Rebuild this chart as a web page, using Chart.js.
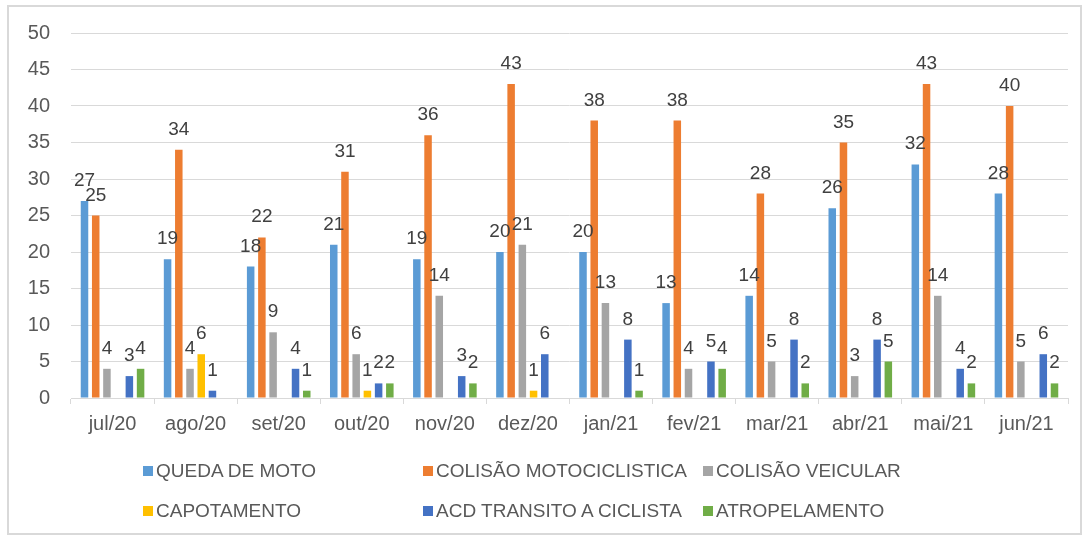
<!DOCTYPE html>
<html>
<head>
<meta charset="utf-8">
<script src="https://cdn.jsdelivr.net/npm/chart.js@4.4.1/dist/chart.umd.min.js"></script>
<style>
    html, body { margin: 0; padding: 0; background: #fff; }
    body { width: 1088px; height: 541px; position: relative; overflow: hidden; font-family: "Liberation Sans", Arial, sans-serif; }
    #frame { position: absolute; left: 7px; top: 5px; width: 1075px; height: 530px; border: 2px solid #d9d9d9; box-sizing: border-box; }
    #chart { position: absolute; left: 0; top: 0; }
    #legend { position: absolute; left: 143px; top: 460px; display: grid; grid-template-columns: 280px 280px 280px; row-gap: 18px; }
    .item { display: flex; align-items: center; height: 22px; font-size: 19px; color: #595959; white-space: nowrap; }
    .box { width: 10px; height: 10px; margin-right: 3px; flex: none; }
</style>
</head>
<body>
<div id="frame"></div>
<canvas id="chart" width="1088" height="541"></canvas>
<div id="legend"></div>
<script>
// Months on the x axis
const months = ['jul/20', 'ago/20', 'set/20', 'out/20', 'nov/20', 'dez/20',
                'jan/21', 'fev/21', 'mar/21', 'abr/21', 'mai/21', 'jun/21'];

// Series (null = empty cell, no bar and no label)
const quedaMoto      = [27, 19, 18, 21, 19, 20, 20, 13, 14, 26, 32, 28];
const colisaoMoto    = [25, 34, 22, 31, 36, 43, 38, 38, 28, 35, 43, 40];
const colisaoVeic    = [4, 4, 9, 6, 14, 21, 13, 4, 5, 3, 14, 5];
const capotamento    = [null, 6, null, 1, null, 1, null, null, null, null, null, null];
const acdCiclista    = [3, 1, 4, 2, 3, 6, 8, 5, 8, 8, 4, 6];
const atropelamento  = [4, null, 1, 2, 2, null, 1, 4, 2, 5, 2, 2];

const yTicks = [0, 5, 10, 15, 20, 25, 30, 35, 40, 45, 50];

const textGray = '#595959';
const gridGray = '#d9d9d9';

function series(label, data, color) {
    return {
        label: label,
        data: data,
        backgroundColor: color,
        borderWidth: 0,
        barPercentage: 0.67,
        categoryPercentage: 0.81
    };
}

// Value labels above each bar, like Excel "outside end"
const valueLabels = {
    id: 'valueLabels',
    afterDatasetsDraw(chart) {
        const ctx = chart.ctx;
        ctx.save();
        ctx.font = '19px "Liberation Sans", Arial, sans-serif';
        ctx.fillStyle = '#404040';
        ctx.textAlign = 'center';
        ctx.textBaseline = 'alphabetic';
        chart.data.datasets.forEach((ds, i) => {
            const meta = chart.getDatasetMeta(i);
            meta.data.forEach((bar, j) => {
                const v = ds.data[j];
                if (v === null || v === undefined) return;
                ctx.fillText(String(v), bar.x, bar.y - 15);
            });
        });
        ctx.restore();
    }
};

const chart = new Chart(document.getElementById('chart'), {
    type: 'bar',
    data: {
        labels: months,
        datasets: [
            series('QUEDA DE MOTO', quedaMoto, '#5b9bd5'),
            series('COLISÃO MOTOCICLISTICA', colisaoMoto, '#ed7d31'),
            series('COLISÃO VEICULAR', colisaoVeic, '#a5a5a5'),
            series('CAPOTAMENTO', capotamento, '#ffc000'),
            series('ACD TRANSITO A CICLISTA', acdCiclista, '#4472c4'),
            series('ATROPELAMENTO', atropelamento, '#70ad47')
        ]
    },
    options: {
        responsive: false,
        animation: false,
        layout: { padding: { left: 0, top: 32, right: 20, bottom: 103 } },
        plugins: {
            legend: { display: false },
            tooltip: { enabled: false }
        },
        scales: {
            x: {
                grid: { display: true, drawOnChartArea: false, offset: true, color: gridGray, tickLength: 6 },
                border: { display: true, color: gridGray, width: 1 },
                ticks: {
                    color: textGray,
                    padding: 8,
                    maxRotation: 0,
                    font: { family: '"Liberation Sans", Arial, sans-serif', size: 20 }
                },
                afterFit(scale) { scale.height = 40; }
            },
            y: {
                min: 0,
                max: 50,
                afterBuildTicks(scale) { scale.ticks = yTicks.map(v => ({ value: v })); },
                grid: { color: gridGray, lineWidth: 1, drawTicks: false },
                border: { display: false },
                ticks: {
                    color: textGray,
                    padding: 21,
                    font: { family: '"Liberation Sans", Arial, sans-serif', size: 20 }
                },
                afterFit(scale) { scale.width = 71; }
            }
        }
    },
    plugins: [valueLabels]
});

// HTML legend laid out in Excel-like columns
const legend = document.getElementById('legend');
chart.data.datasets.forEach(ds => {
    const item = document.createElement('div');
    item.className = 'item';
    const box = document.createElement('span');
    box.className = 'box';
    box.style.background = ds.backgroundColor;
    const txt = document.createElement('span');
    txt.textContent = ds.label;
    item.appendChild(box);
    item.appendChild(txt);
    legend.appendChild(item);
});
</script>
</body>
</html>
